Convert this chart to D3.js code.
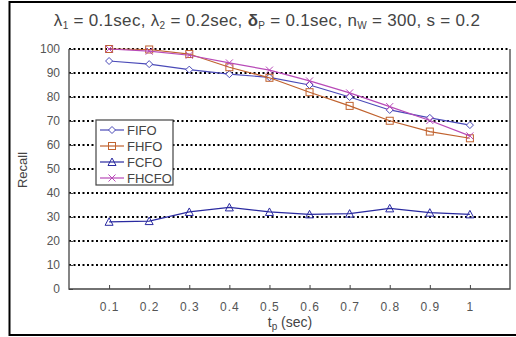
<!DOCTYPE html>
<html>
<head>
<meta charset="utf-8">
<script src="https://cdn.jsdelivr.net/npm/d3@7"></script>
<style>
  body { margin: 0; background: #fff; }
  svg { display: block; font-family: "Liberation Sans", Arial, sans-serif; }
</style>
</head>
<body>
<svg id="chart" width="516" height="337"></svg>
<script>
// data
const tp = [0.1, 0.2, 0.3, 0.4, 0.5, 0.6, 0.7, 0.8, 0.9, 1];
const tpLabels = ['0.1', '0.2', '0.3', '0.4', '0.5', '0.6', '0.7', '0.8', '0.9', '1'];
const fifo  = [95, 93.7, 91.4, 89.5, 88.2, 85, 80, 74.6, 71.3, 68.3];
const fhfo  = [100, 99.8, 97.9, 92.4, 88, 82, 76.3, 70.1, 65.6, 62.8];
const fcfo  = [28, 28.3, 32.1, 34, 32.1, 31.1, 31.4, 33.6, 31.8, 31.1];
const fhcfo = [100, 99.1, 97.4, 94.2, 91.2, 86.7, 81.7, 76, 70.2, 63.8];
const yTicks = [0, 10, 20, 30, 40, 50, 60, 70, 80, 90, 100];

const series = [
  { name: 'FIFO',  values: fifo,  color: '#4a4ab8', marker: 'diamond' },
  { name: 'FHFO',  values: fhfo,  color: '#c0622e', marker: 'square' },
  { name: 'FCFO',  values: fcfo,  color: '#2a2aa0', marker: 'triangle' },
  { name: 'FHCFO', values: fhcfo, color: '#b84ab8', marker: 'cross' }
];

const svg = d3.select('#chart');
const plotL = 69, plotR = 510, plotT = 49, plotB = 289;

const x = d3.scaleLinear().domain([0, 1.1]).range([plotL, plotR]);
const y = d3.scaleLinear().domain([0, 100]).range([plotB, plotT]);

// outer frame
svg.append('rect')
  .attr('x', 9.5).attr('y', 2).attr('width', 520).attr('height', 333)
  .attr('fill', 'none').attr('stroke', '#000').attr('stroke-width', 2);

// title
const title = svg.append('text')
  .attr('x', 267).attr('y', 26)
  .attr('text-anchor', 'middle')
  .attr('font-size', 17).attr('letter-spacing', 0.3).attr('fill', '#444');
const sub = (t) => title.append('tspan').attr('font-size', 10).attr('dy', 3).text(t);
const back = (t) => title.append('tspan').attr('dy', -3).text(t);
title.append('tspan').text('λ');
sub('1'); back(' = 0.1sec, λ');
sub('2'); back(' = 0.2sec, ');
title.append('tspan').attr('font-weight', 'bold').text('δ');
sub('P'); back(' = 0.1sec, n');
sub('W'); back(' = 300, s = 0.2');

// grid lines (dotted)
svg.append('g')
  .selectAll('line')
  .data(yTicks.filter(d => d > 0))
  .join('line')
  .attr('x1', plotL).attr('x2', plotR)
  .attr('y1', d => y(d)).attr('y2', d => y(d))
  .attr('stroke', '#000').attr('stroke-width', 2)
  .attr('stroke-dasharray', '2,2.5');

// frame: left, bottom, right solid
svg.append('path')
  .attr('d', `M${plotL},${plotT}V${plotB}H${plotR}V${plotT}`)
  .attr('fill', 'none').attr('stroke', '#444').attr('stroke-width', 1.3);

// y axis
const yAxis = svg.append('g')
  .attr('transform', `translate(${plotL},0)`)
  .call(d3.axisLeft(y).tickValues(yTicks).tickSize(-4).tickPadding(9));
yAxis.select('.domain').remove();
yAxis.selectAll('line').attr('stroke', '#444');
yAxis.selectAll('text').attr('font-size', 12).attr('fill', '#555')
  .attr('font-family', '"Liberation Sans", Arial, sans-serif');

// x axis
const xAxis = svg.append('g')
  .attr('transform', `translate(0,${plotB})`)
  .call(d3.axisBottom(x).tickValues(tp).tickFormat((d, i) => tpLabels[i])
    .tickSize(-4).tickPadding(13));
xAxis.select('.domain').remove();
xAxis.selectAll('line').attr('stroke', '#444');
xAxis.selectAll('text').attr('font-size', 12).attr('fill', '#555')
  .attr('letter-spacing', 1)
  .attr('font-family', '"Liberation Sans", Arial, sans-serif');

// axis titles
const xt = svg.append('text')
  .attr('x', 290).attr('y', 327)
  .attr('text-anchor', 'middle').attr('font-size', 14).attr('fill', '#444');
xt.append('tspan').text('t');
xt.append('tspan').attr('font-size', 10).attr('dy', 3).text('p');
xt.append('tspan').attr('dy', -3).text(' (sec)');

svg.append('text')
  .attr('transform', 'translate(27,170) rotate(-90)')
  .attr('text-anchor', 'middle').attr('font-size', 13).attr('fill', '#444')
  .text('Recall');

// markers
function drawMarker(g, type, cx, cy, color) {
  const s = 3.5;
  if (type === 'diamond') {
    g.append('path').attr('d', `M${cx},${cy - s}L${cx + s},${cy}L${cx},${cy + s}L${cx - s},${cy}Z`)
      .attr('fill', '#fff').attr('stroke', color);
  } else if (type === 'square') {
    g.append('rect').attr('x', cx - s).attr('y', cy - s).attr('width', 2 * s).attr('height', 2 * s)
      .attr('fill', 'none').attr('stroke', color);
  } else if (type === 'triangle') {
    g.append('path').attr('d', `M${cx},${cy - s - 0.5}L${cx + s + 0.5},${cy + s}L${cx - s - 0.5},${cy + s}Z`)
      .attr('fill', 'none').attr('stroke', color);
  } else {
    g.append('path').attr('d', `M${cx - s},${cy - s}L${cx + s},${cy + s}M${cx + s},${cy - s}L${cx - s},${cy + s}`)
      .attr('stroke', color);
  }
}

const line = d3.line().x((d, i) => x(tp[i])).y(d => y(d));

series.forEach(s => {
  const g = svg.append('g');
  g.append('path').datum(s.values)
    .attr('d', line)
    .attr('fill', 'none').attr('stroke', s.color).attr('stroke-width', 1.2);
  s.values.forEach((v, i) => drawMarker(g, s.marker, x(tp[i]), y(v), s.color));
});

// legend
const lg = svg.append('g');
lg.append('rect')
  .attr('x', 96).attr('y', 120).attr('width', 77).attr('height', 65)
  .attr('fill', '#fff').attr('stroke', '#444').attr('stroke-width', 1.2);
series.forEach((s, i) => {
  const ly = 130 + i * 16;
  lg.append('line').attr('x1', 100).attr('x2', 124).attr('y1', ly).attr('y2', ly)
    .attr('stroke', s.color).attr('stroke-width', 1.2);
  drawMarker(lg, s.marker, 112, ly, s.color);
  lg.append('text').attr('x', 127).attr('y', ly + 5)
    .attr('font-size', 13).attr('fill', '#444').text(s.name);
});
</script>
</body>
</html>
